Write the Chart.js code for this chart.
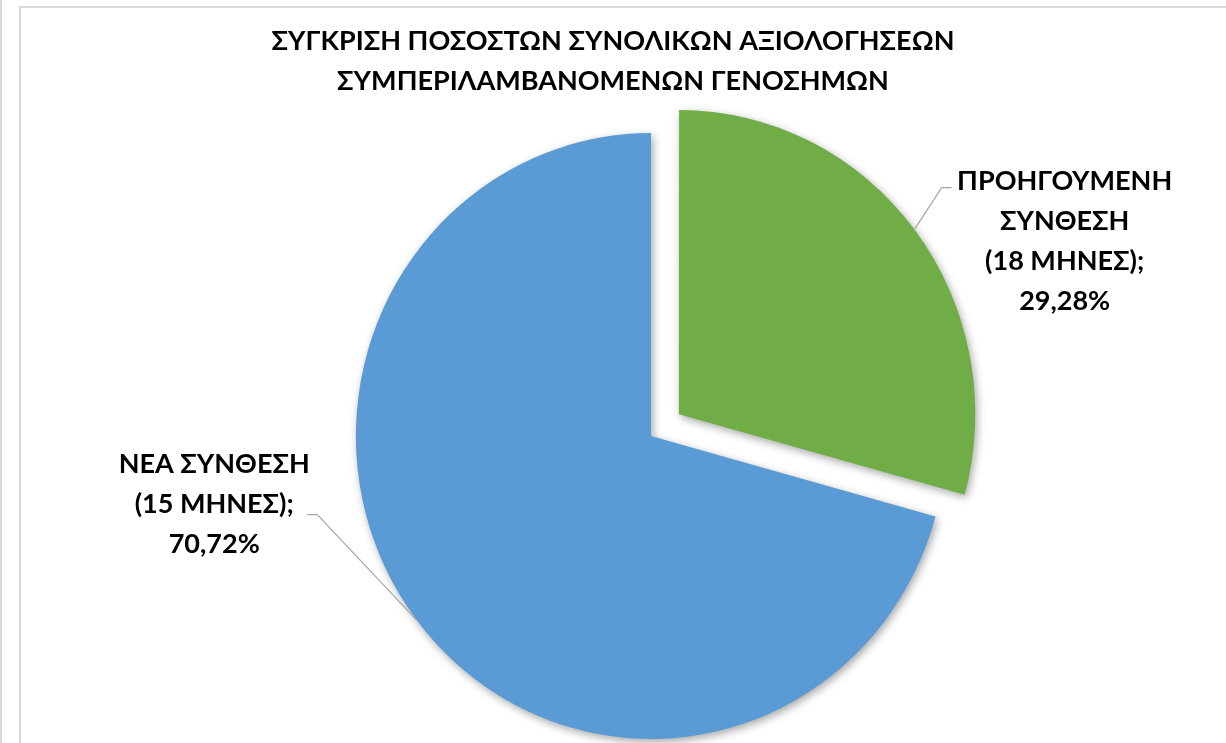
<!DOCTYPE html>
<html>
<head>
<meta charset="utf-8">
<script src="https://cdn.jsdelivr.net/npm/chart.js@4.4.1/dist/chart.umd.min.js"></script>
<style>
    html, body { margin: 0; padding: 0; background: #fff; overflow: hidden; }
    #edge { position: absolute; left: 0; top: 0; width: 2px; height: 800px; background: #d9d9d9; }
    #frame { position: absolute; left: 19px; top: 6px; width: 1400px; height: 900px; border: 2px solid #d9d9d9; }
    #wrap { position: absolute; left: 0; top: 0; width: 1226px; height: 770px; }
</style>
</head>
<body>
<div id="edge"></div>
<div id="frame"></div>
<div id="wrap"><canvas id="pieChart"></canvas></div>
<script>
// Chart data
const titleLines = ['ΣΥΓΚΡΙΣΗ ΠΟΣΟΣΤΩΝ ΣΥΝΟΛΙΚΩΝ ΑΞΙΟΛΟΓΗΣΕΩΝ', 'ΣΥΜΠΕΡΙΛΑΜΒΑΝΟΜΕΝΩΝ ΓΕΝΟΣΗΜΩΝ'];
const categories = ['ΠΡΟΗΓΟΥΜΕΝΗ ΣΥΝΘΕΣΗ (18 ΜΗΝΕΣ)', 'ΝΕΑ ΣΥΝΘΕΣΗ (15 ΜΗΝΕΣ)'];
const categoryLines = [
    ['ΠΡΟΗΓΟΥΜΕΝΗ', 'ΣΥΝΘΕΣΗ', '(18 ΜΗΝΕΣ);'],
    ['ΝΕΑ ΣΥΝΘΕΣΗ', '(15 ΜΗΝΕΣ);']
];
const percentages = [29.28, 70.72];
const sliceColors = ['#70AD47', '#5B9BD5'];
// Chart.js moves a slice by offset / 4 pixels, so 144 -> 36px
const sliceOffsets = [144, 0];

// The original pie is a little narrower than it is tall
const X_SQUEEZE = 0.974;

// Title sits centred on the page, not on the pie
const titleX = 613;
const titleY = 41;

// Label placement, relative to the point on the slice edge
const labelPlacement = [
    { elbow: [28, -43], tail: 10, textDx: 151, textDy: -49 },
    { elbow: [-99, -105], tail: -10, textDx: -202, textDy: -155 }
];

const FONT = 'Lato, "Open Sans", sans-serif';
const LINE_H = 40;

function formatPercent(v) {
    return v.toFixed(2).replace('.', ',') + '%';
}

// Soft shadow under the slices + horizontal squeeze
const shadowPlugin = {
    id: 'sliceShadow',
    beforeDatasetsDraw(chart) {
        const ctx = chart.ctx;
        const cx = chart.getDatasetMeta(0).data[0].x;
        ctx.save();
        ctx.translate(cx, 0);
        ctx.scale(X_SQUEEZE, 1);
        ctx.translate(-cx, 0);
        ctx.shadowColor = 'rgba(0, 0, 0, 0.35)';
        ctx.shadowBlur = 9;
        ctx.shadowOffsetX = 2;
        ctx.shadowOffsetY = 3;
    },
    afterDatasetsDraw(chart) {
        chart.ctx.restore();
    }
};

// Title and outside labels with leader lines
const outsideLabels = {
    id: 'outsideLabels',
    afterDraw(chart) {
        const ctx = chart.ctx;
        ctx.save();
        ctx.fillStyle = '#000';
        ctx.font = 'bold 27px ' + FONT;
        ctx.textAlign = 'center';
        ctx.textBaseline = 'middle';
        titleLines.forEach((line, j) => {
            ctx.fillText(line, titleX, titleY + j * LINE_H);
        });
        ctx.restore();

        const meta = chart.getDatasetMeta(0);
        meta.data.forEach((arc, i) => {
            const p = arc.getProps(['x', 'y', 'startAngle', 'endAngle', 'outerRadius'], true);
            const mid = (p.startAngle + p.endAngle) / 2;
            const r = p.outerRadius + (arc.options.offset || 0) / 4;
            const ex = p.x + Math.cos(mid) * r * X_SQUEEZE;
            const ey = p.y + Math.sin(mid) * r;
            const place = labelPlacement[i];
            const bx = ex + place.elbow[0];
            const by = ey + place.elbow[1];

            ctx.save();
            ctx.strokeStyle = '#a6a6a6';
            ctx.lineWidth = 1.2;
            ctx.beginPath();
            ctx.moveTo(ex, ey);
            ctx.lineTo(bx, by);
            ctx.lineTo(bx + place.tail, by);
            ctx.stroke();

            const lines = categoryLines[i].concat([formatPercent(percentages[i])]);
            ctx.fillStyle = '#000';
            ctx.font = 'bold 27px ' + FONT;
            ctx.textAlign = 'center';
            ctx.textBaseline = 'middle';
            lines.forEach((line, j) => {
                ctx.fillText(line, ex + place.textDx, ey + place.textDy + j * LINE_H);
            });
            ctx.restore();
        });
    }
};

const ctx = document.getElementById('pieChart').getContext('2d');
new Chart(ctx, {
    type: 'pie',
    data: {
        labels: categories,
        datasets: [{
            data: percentages,
            backgroundColor: sliceColors,
            offset: sliceOffsets,
            borderWidth: 0,
            radius: 303
        }]
    },
    options: {
        responsive: true,
        maintainAspectRatio: false,
        animation: false,
        events: [],
        layout: {
            padding: { left: 76, right: 0, top: 115, bottom: 13 }
        },
        plugins: {
            legend: { display: false },
            tooltip: { enabled: false },
            title: { display: false }
        }
    },
    plugins: [shadowPlugin, outsideLabels]
});
</script>
</body>
</html>
